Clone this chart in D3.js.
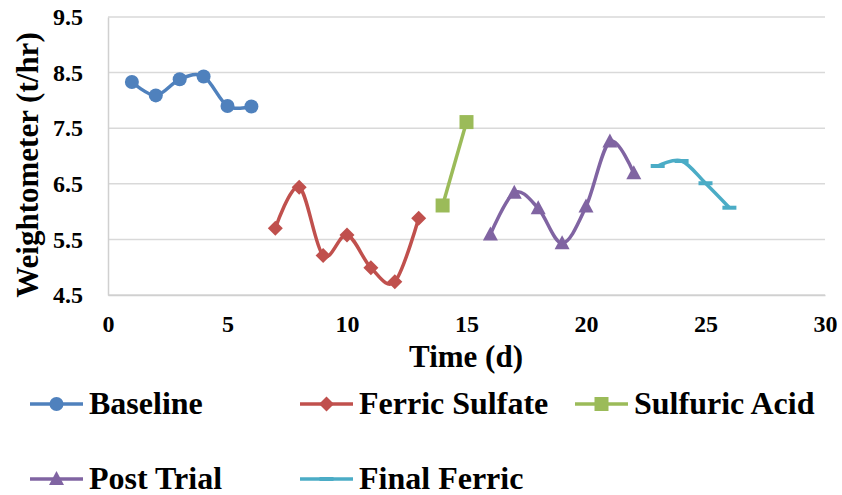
<!DOCTYPE html>
<html>
<head>
<meta charset="utf-8">
<script src="https://cdn.jsdelivr.net/npm/d3@7"></script>
<style>
  html, body { margin: 0; padding: 0; background: #fff; }
</style>
</head>
<body>
<svg id="chart" width="842" height="495"></svg>
<script>
// Weightometer readings (t/hr) by day for each trial phase
const baselineDays = [1, 2, 3, 4, 5, 6];
const baselineVals = [8.33, 8.09, 8.38, 8.43, 7.90, 7.89];

const ferricSulfateDays = [7, 8, 9, 10, 11, 12, 13];
const ferricSulfateVals = [5.70, 6.44, 5.21, 5.58, 4.99, 4.74, 5.88];

const sulfuricAcidDays = [14, 15];
const sulfuricAcidVals = [6.11, 7.61];

const postTrialDays = [16, 17, 18, 19, 20, 21, 22];
const postTrialVals = [5.59, 6.34, 6.06, 5.43, 6.09, 7.26, 6.69];

const finalFerricDays = [23, 24, 25, 26];
const finalFerricVals = [6.82, 6.91, 6.51, 6.07];

const xTicks = [0, 5, 10, 15, 20, 25, 30];
const yTicks = [4.5, 5.5, 6.5, 7.5, 8.5, 9.5];

const seriesNames = ["Baseline", "Ferric Sulfate", "Sulfuric Acid", "Post Trial", "Final Ferric"];

const series = [
  { name: seriesNames[0], days: baselineDays, vals: baselineVals, color: "#4F81BD", marker: "circle" },
  { name: seriesNames[1], days: ferricSulfateDays, vals: ferricSulfateVals, color: "#C0504D", marker: "diamond" },
  { name: seriesNames[2], days: sulfuricAcidDays, vals: sulfuricAcidVals, color: "#9BBB59", marker: "square" },
  { name: seriesNames[3], days: postTrialDays, vals: postTrialVals, color: "#8064A2", marker: "triangle" },
  { name: seriesNames[4], days: finalFerricDays, vals: finalFerricVals, color: "#4BACC6", marker: "dash" }
];

const FONT = "'Liberation Serif', Tinos, 'Times New Roman', 'DejaVu Serif', serif";

const svg = d3.select("#chart");
const plot = { left: 108, right: 825, top: 17, bottom: 295 };

const x = d3.scaleLinear().domain([0, 30]).range([plot.left, plot.right]);
const y = d3.scaleLinear().domain([4.5, 9.5]).range([plot.bottom, plot.top]);

function styleText(sel, size) {
  sel.style("font-family", FONT)
    .style("font-weight", "bold")
    .style("font-size", size + "px")
    .attr("fill", "#000");
}

// Horizontal gridlines
svg.append("g")
  .selectAll("line")
  .data(yTicks)
  .join("line")
  .attr("x1", plot.left).attr("x2", plot.right)
  .attr("y1", d => y(d)).attr("y2", d => y(d))
  .attr("stroke", "#d9d9d9").attr("stroke-width", 1.5);

// Axes
const yAxis = d3.axisLeft(y).tickValues(yTicks).tickSize(0).tickPadding(25)
  .tickFormat(d3.format(".1f"));
const gy = svg.append("g").attr("transform", `translate(${plot.left},0)`).call(yAxis);
gy.select(".domain").attr("stroke", "#d0d0d0").attr("stroke-width", 1.5);
styleText(gy.selectAll("text"), 24);

const xAxis = d3.axisBottom(x).tickValues(xTicks).tickSize(0).tickPadding(20)
  .tickFormat(d3.format("d"));
const gx = svg.append("g").attr("transform", `translate(0,${plot.bottom})`).call(xAxis);
gx.select(".domain").attr("stroke", "#d0d0d0").attr("stroke-width", 1.5);
styleText(gx.selectAll("text"), 24);

// Axis titles
styleText(svg.append("text")
  .attr("x", (plot.left + plot.right) / 2 - 0.5)
  .attr("y", 367)
  .attr("text-anchor", "middle")
  .text("Time (d)"), 31);

styleText(svg.append("text")
  .attr("transform", "translate(38,165) rotate(-90)")
  .attr("text-anchor", "middle")
  .text("Weightometer (t/hr)"), 31);

// Smoothed lines
const line = d3.line()
  .x(d => x(d[0]))
  .y(d => y(d[1]))
  .curve(d3.curveCardinal.tension(0));

function drawMarker(g, type, color) {
  if (type === "circle") {
    g.append("circle").attr("r", 7).attr("fill", color);
  } else if (type === "diamond") {
    g.append("path").attr("d", "M0,-7.5L7.5,0L0,7.5L-7.5,0Z").attr("fill", color);
  } else if (type === "square") {
    g.append("rect").attr("x", -7).attr("y", -7).attr("width", 14).attr("height", 14).attr("fill", color);
  } else if (type === "triangle") {
    g.append("path").attr("d", "M0,-8L7.5,6L-7.5,6Z").attr("fill", color);
  } else if (type === "dash") {
    g.append("rect").attr("x", -7).attr("y", -2).attr("width", 14).attr("height", 4).attr("fill", color);
  }
}

const plotG = svg.append("g");
series.forEach(s => {
  const pts = s.days.map((d, i) => [d, s.vals[i]]);
  plotG.append("path")
    .attr("d", line(pts))
    .attr("fill", "none")
    .attr("stroke", s.color)
    .attr("stroke-width", 3.5)
    .attr("stroke-linejoin", "round");
  pts.forEach(p => {
    const g = plotG.append("g").attr("transform", `translate(${x(p[0])},${y(p[1])})`);
    drawMarker(g, s.marker, s.color);
  });
});

// Legend
const legendPos = [
  { x: 30, y: 404 }, { x: 300, y: 404 }, { x: 575, y: 404 },
  { x: 30, y: 479 }, { x: 300, y: 479 }
];
series.forEach((s, i) => {
  const p = legendPos[i];
  const g = svg.append("g").attr("transform", `translate(${p.x},${p.y})`);
  g.append("line").attr("x1", 0).attr("x2", 53).attr("y1", 0).attr("y2", 0)
    .attr("stroke", s.color).attr("stroke-width", 3.5);
  const m = g.append("g").attr("transform", "translate(26.5,0)");
  drawMarker(m, s.marker, s.color);
  styleText(g.append("text").attr("x", 59).attr("y", 10).text(s.name), 32);
});
</script>
</body>
</html>
